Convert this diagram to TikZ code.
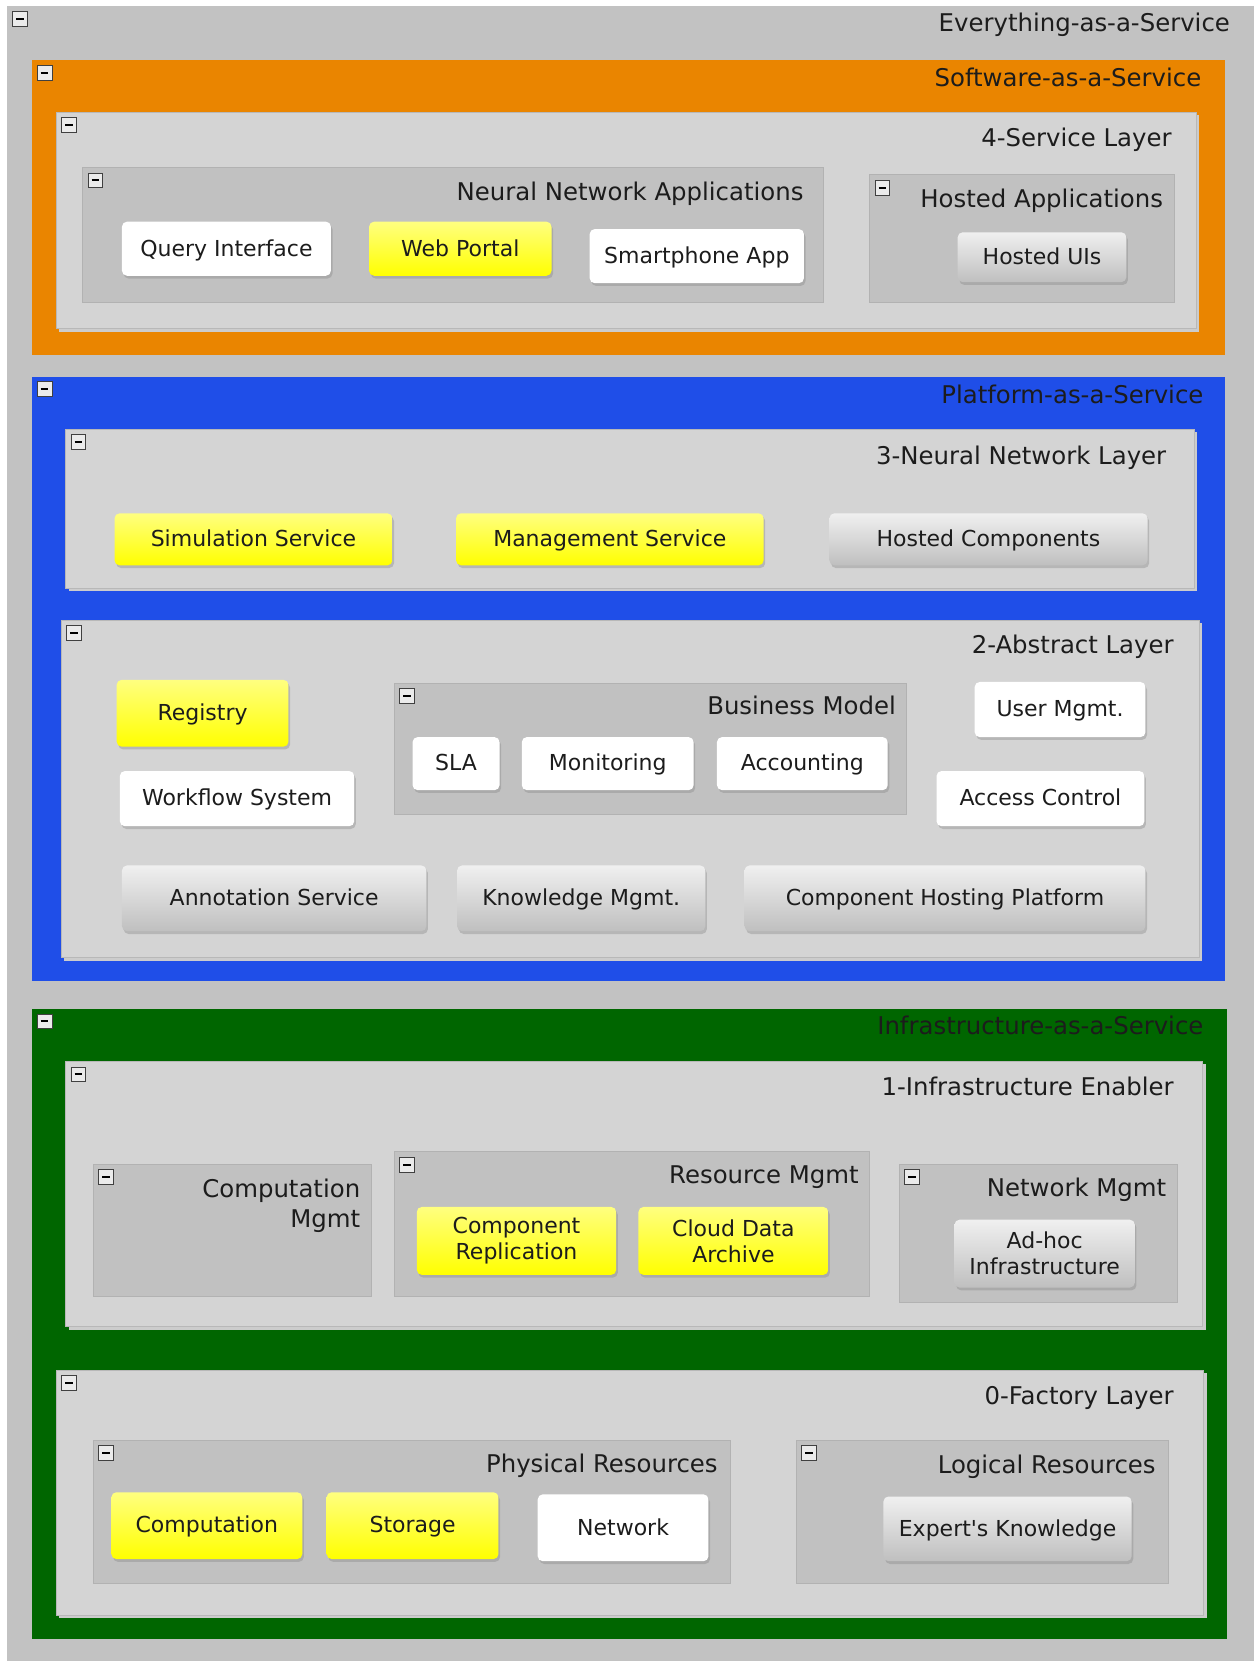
\documentclass[tikz,border=0pt]{standalone}
\usepackage{fontspec}
\setmainfont{DejaVu Sans}
\usetikzlibrary{fit,shadows}

\definecolor{eaasgray}{RGB}{194,194,194}
\definecolor{saasorange}{RGB}{234,133,0}
\definecolor{paasblue}{RGB}{31,78,232}
\definecolor{iaasgreen}{RGB}{0,102,0}
\definecolor{layergray}{RGB}{212,212,212}
\definecolor{groupgray}{RGB}{193,193,193}
\definecolor{txtdark}{RGB}{28,28,28}

\tikzset{
  frame/.style={inner sep=0pt, outer sep=0pt},
  layerbox/.style={frame, fill=layergray, draw=black!28, line width=0.4pt,
    drop shadow={shadow xshift=1.4pt, shadow yshift=-1.4pt, fill=black!20, opacity=1}},
  groupbox/.style={frame, fill=groupgray, draw=black!30, line width=0.5pt},
  btn/.style={frame, rounded corners=2.5pt,
    drop shadow={shadow xshift=0.8pt, shadow yshift=-1.4pt, opacity=0.35}},
  btntext/.style={inner sep=0pt, font=\fontsize{11}{13}\selectfont, text=txtdark,
    text height=9.6pt, text depth=2.3pt},
  twoline/.style={btntext, align=center, text height=, text depth=},
  whitebtn/.style={btn, fill=white},
  yellowbtn/.style={btn, top color=yellow!50!white, bottom color=yellow},
  graybtn/.style={btn, top color=black!6, bottom color=black!25},
  title/.style={anchor=east, inner sep=0pt, font=\fontsize{12.2}{15}\selectfont, text=txtdark,
    text height=11pt, text depth=2.4pt},
  minus/.style={draw=black!75, fill=black!8, line width=0.4pt, minimum size=7.4pt, inner sep=0pt}
}

\begin{document}
\begin{tikzpicture}[x=0.5305pt,y=-0.5305pt]
\useasboundingbox (0,0) rectangle (1182,1568);
\fill[white] (0,0) rectangle (1182,1568);

%Everything-as-a-Service
\node[frame, fill=eaasgray, fit={(7,6) (1182,1566)}] (eaas) {};
\node[minus] (eaasM) at ([shift={(12,12)}]eaas.north west) {\rule{3.8pt}{1pt}};
\node[title] (eaasT) at (1160,22) {Everything-as-a-Service};

%Software-as-a-Service
\node[frame, fill=saasorange, fit={(30,57) (1155,335)}] (saas) {};
\node[minus] (saasM) at ([shift={(12,12)}]saas.north west) {\rule{3.8pt}{1pt}};
\node[title] (saasT) at (1133,73) {Software-as-a-Service};

%4-Service Layer
\node[layerbox, fit={(53,106) (1128,310)}] (svcLayer) {};
\node[minus] (svcLayerM) at ([shift={(12,12)}]svcLayer.north west) {\rule{3.8pt}{1pt}};
\node[title] (svcLayerT) at (1105,130) {4-Service Layer};

\node[groupbox, fit={(78,158) (776,285)}] (nnApps) {};
\node[minus] (nnAppsM) at ([shift={(12,12)}]nnApps.north west) {\rule{3.8pt}{1pt}};
\node[title] (nnAppsT) at (758,181) {Neural Network Applications};
\node[whitebtn, fit={(115,209) (312,260)}, label={[btntext]center:Query Interface}] (query) {};
\node[yellowbtn, fit={(348,209) (520,260)}, label={[btntext]center:Web Portal}] (webPortal) {};
\node[whitebtn, fit={(556,216) (758,267)}, label={[btntext]center:Smartphone App}] (smartphone) {};

\node[groupbox, fit={(820,165) (1107,285)}] (hostedApps) {};
\node[minus] (hostedAppsM) at ([shift={(12,12)}]hostedApps.north west) {\rule{3.8pt}{1pt}};
\node[title] (hostedAppsT) at (1097,188) {Hosted Applications};
\node[graybtn, fit={(903,219) (1062,266)}, label={[btntext]center:Hosted UIs}] (hostedUIs) {};

%Platform-as-a-Service
\node[frame, fill=paasblue, fit={(30,355) (1155,925)}] (paas) {};
\node[minus] (paasM) at ([shift={(12,12)}]paas.north west) {\rule{3.8pt}{1pt}};
\node[title] (paasT) at (1135,372) {Platform-as-a-Service};

%3-Neural Network Layer
\node[layerbox, fit={(62,405) (1126,555)}] (nnLayer) {};
\node[minus] (nnLayerM) at ([shift={(12,12)}]nnLayer.north west) {\rule{3.8pt}{1pt}};
\node[title] (nnLayerT) at (1100,430) {3-Neural Network Layer};
\node[yellowbtn, fit={(108,484) (370,533)}, label={[btntext]center:Simulation Service}] (simService) {};
\node[yellowbtn, fit={(430,484) (720,533)}, label={[btntext]center:Management Service}] (mgmtService) {};
\node[graybtn, fit={(782,484) (1082,533)}, label={[btntext]center:Hosted Components}] (hostedComp) {};

%2-Abstract Layer
\node[layerbox, fit={(58,585) (1131,903)}] (abstract) {};
\node[minus] (abstractM) at ([shift={(12,12)}]abstract.north west) {\rule{3.8pt}{1pt}};
\node[title] (abstractT) at (1107,608) {2-Abstract Layer};
\node[yellowbtn, fit={(110,641) (272,704)}, label={[btntext]center:Registry}] (registry) {};
\node[whitebtn, fit={(113,727) (334,779)}, label={[btntext]center:Workflow System}] (workflow) {};

\node[groupbox, fit={(372,644) (855,768)}] (busModel) {};
\node[minus] (busModelM) at ([shift={(12,12)}]busModel.north west) {\rule{3.8pt}{1pt}};
\node[title] (busModelT) at (845,666) {Business Model};
\node[whitebtn, fit={(389,695) (471,745)}, label={[btntext]center:SLA}] (sla) {};
\node[whitebtn, fit={(492,695) (654,745)}, label={[btntext]center:Monitoring}] (monitoring) {};
\node[whitebtn, fit={(676,695) (837,745)}, label={[btntext]center:Accounting}] (accounting) {};

\node[whitebtn, fit={(919,643) (1080,695)}, label={[btntext]center:User Mgmt.}] (userMgmt) {};
\node[whitebtn, fit={(883,727) (1079,779)}, label={[btntext]center:Access Control}] (accessCtl) {};
\node[graybtn, fit={(115,816) (402,878)}, label={[btntext]center:Annotation Service}] (annotation) {};
\node[graybtn, fit={(431,816) (665,878)}, label={[btntext]center:Knowledge Mgmt.}] (knowledge) {};
\node[graybtn, fit={(702,816) (1080,878)}, label={[btntext]center:Component Hosting Platform}] (compHosting) {};

%Infrastructure-as-a-Service
\node[frame, fill=iaasgreen, fit={(30,951) (1157,1545)}] (iaas) {};
\node[minus] (iaasM) at ([shift={(12,12)}]iaas.north west) {\rule{3.8pt}{1pt}};
\node[title] (iaasT) at (1135,967) {Infrastructure-as-a-Service};

%1-Infrastructure Enabler
\node[layerbox, fit={(62,1001) (1134,1251)}] (enabler) {};
\node[minus] (enablerM) at ([shift={(12,12)}]enabler.north west) {\rule{3.8pt}{1pt}};
\node[title] (enablerT) at (1107,1025) {1-Infrastructure Enabler};

\node[groupbox, fit={(88,1098) (350,1222)}] (compMgmt) {};
\node[minus] (compMgmtM) at ([shift={(12,12)}]compMgmt.north west) {\rule{3.8pt}{1pt}};
\node[title, align=right, text height=, text depth=] (compMgmtT) at (340,1137) {Computation\\Mgmt};

\node[groupbox, fit={(372,1086) (820,1222)}] (resMgmt) {};
\node[minus] (resMgmtM) at ([shift={(12,12)}]resMgmt.north west) {\rule{3.8pt}{1pt}};
\node[title] (resMgmtT) at (810,1108) {Resource Mgmt};
\node[yellowbtn, fit={(393,1138) (581,1202)}, label={[twoline]center:Component\\Replication}] (replication) {};
\node[yellowbtn, fit={(602,1138) (781,1202)}, label={[twoline]center:Cloud Data\\Archive}] (cloudArchive) {};

\node[groupbox, fit={(848,1098) (1110,1228)}] (netMgmt) {};
\node[minus] (netMgmtM) at ([shift={(12,12)}]netMgmt.north west) {\rule{3.8pt}{1pt}};
\node[title] (netMgmtT) at (1100,1120) {Network Mgmt};
\node[graybtn, fit={(900,1150) (1070,1214)}, label={[twoline]center:Ad-hoc\\Infrastructure}] (adhoc) {};

%0-Factory Layer
\node[layerbox, fit={(53,1292) (1135,1523)}] (factory) {};
\node[minus] (factoryM) at ([shift={(12,12)}]factory.north west) {\rule{3.8pt}{1pt}};
\node[title] (factoryT) at (1107,1316) {0-Factory Layer};

\node[groupbox, fit={(88,1358) (689,1493)}] (physRes) {};
\node[minus] (physResM) at ([shift={(12,12)}]physRes.north west) {\rule{3.8pt}{1pt}};
\node[title] (physResT) at (677,1380) {Physical Resources};
\node[yellowbtn, fit={(105,1407) (285,1470)}, label={[btntext]center:Computation}] (computation) {};
\node[yellowbtn, fit={(308,1407) (470,1470)}, label={[btntext]center:Storage}] (storage) {};
\node[whitebtn, fit={(507,1409) (668,1472)}, label={[btntext]center:Network}] (network) {};

\node[groupbox, fit={(751,1358) (1102,1493)}] (logRes) {};
\node[minus] (logResM) at ([shift={(12,12)}]logRes.north west) {\rule{3.8pt}{1pt}};
\node[title] (logResT) at (1090,1381) {Logical Resources};
\node[graybtn, fit={(833,1411) (1067,1472)}, label={[btntext]center:Expert\textquotesingle s Knowledge}] (expert) {};

\end{tikzpicture}
\end{document}
